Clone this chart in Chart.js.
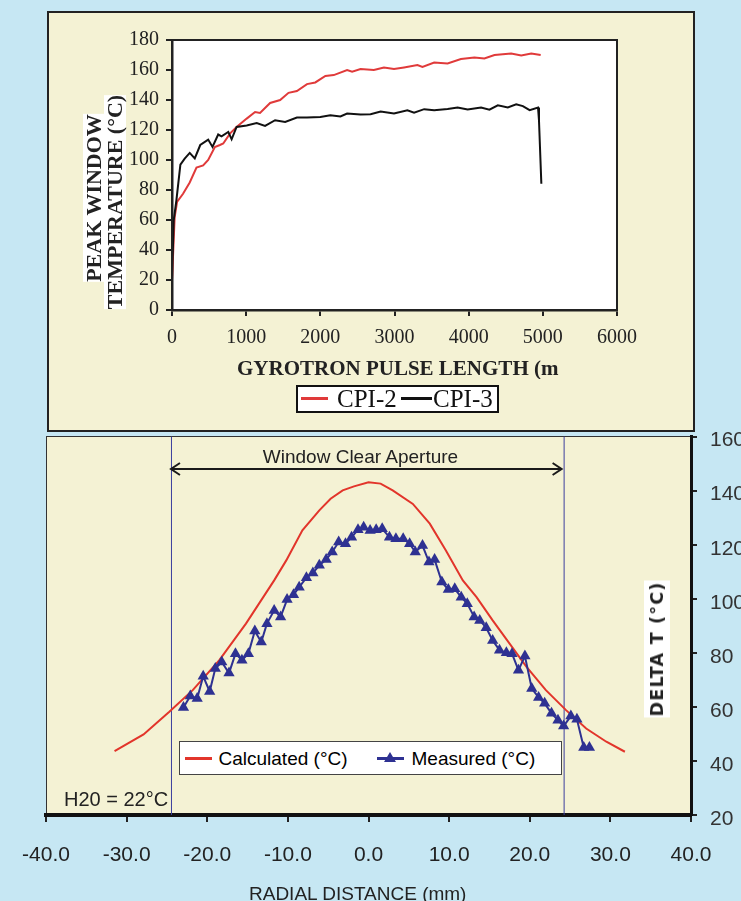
<!DOCTYPE html>
<html lang="en">
<head>
<meta charset="UTF-8">
<title>Gyrotron window temperature</title>
<script src="https://cdn.jsdelivr.net/npm/chart.js"></script>
<style>
  body { margin: 0; width: 741px; height: 901px; overflow: hidden; background: #c6e7f3; position: relative; }
  .panel { position: absolute; box-sizing: border-box; background: #f4f2d4; }
  #topPanel { left: 47px; top: 11px; width: 648px; height: 421px; border: 2px solid #222; }
  #bottomPanel { left: 46px; top: 436px; width: 646px; height: 379px; border-left: 1.5px solid #333; border-top: 1.5px solid #333; }
  canvas { position: absolute; left: 0; }
  .txt { position: absolute; white-space: nowrap; color: #222; line-height: 1; }
  .serif { font-family: 'Liberation Serif', 'Times New Roman', serif; }
  .sans { font-family: 'Liberation Sans', Arial, sans-serif; }
  .rot { transform: translate(-50%, -50%) rotate(-90deg); background: #fff; }
  .legend { position: absolute; box-sizing: border-box; background: #fff; }
  .legend > * { position: absolute; }
  .key { height: 2.5px; }
  .tri { width: 0; height: 0; border-left: 6px solid transparent; border-right: 6px solid transparent; border-bottom: 10px solid #2e3192; }
</style>
</head>
<body>
  <div class="panel" id="topPanel"></div>
  <div class="panel" id="bottomPanel"></div>

  <canvas id="pulseChart" width="741" height="432" style="top:0"></canvas>
  <canvas id="radialChart" width="741" height="490" style="top:411px"></canvas>

  <!-- top chart texts -->
  <div class="txt serif rot" style="left:93.5px; top:197.5px; font-size:22px; font-weight:bold; line-height:22px;">PEAK WINDOW</div>
  <div class="txt serif rot" style="left:114.5px; top:201.5px; font-size:22px; font-weight:bold; line-height:22px;">TEMPERATURE (°C)</div>
  <div class="txt serif" style="left:237px; top:358px; width:322px; overflow:hidden; font-size:21px; font-weight:bold;">GYROTRON PULSE LENGTH (mS)</div>

  <div class="legend serif" style="left:296px; top:385px; width:203px; height:28px; border:2px solid #111;">
    <span class="key" style="left:3px; top:10px; width:27px; background:#e03a3a;"></span>
    <span style="left:39px; top:-1px; font-size:25px; line-height:25px; color:#111;">CPI-2</span>
    <span class="key" style="left:103px; top:10px; width:31px; background:#111;"></span>
    <span style="left:135px; top:-1px; font-size:25px; line-height:25px; color:#111;">CPI-3</span>
  </div>

  <!-- bottom chart texts -->
  <div class="txt sans" style="left:360.5px; top:446.5px; font-size:19px; transform:translateX(-50%);">Window Clear Aperture</div>
  <div class="txt sans" style="left:64px; top:788.5px; font-size:20px;">H20 = 22°C</div>
  <div class="txt sans" style="left:249px; top:883.5px; font-size:19px;">RADIAL DISTANCE (mm)</div>
  <div class="txt rot" style="left:657px; top:649px; font-family:'DejaVu Sans', sans-serif; font-size:17.5px; font-weight:bold; line-height:26px; letter-spacing:1.2px; padding:0 1px;">DELTA T (°C)</div>

  <div class="legend sans" style="left:178.5px; top:741px; width:383px; height:34px; border:1.5px solid #444;">
    <span class="key" style="left:5px; top:15px; width:27px; background:#e2352b;"></span>
    <span style="left:39px; top:7px; font-size:19px; line-height:19px;">Calculated (°C)</span>
    <span class="key" style="left:197px; top:15px; width:27px; background:#2e3192;"></span>
    <span class="tri" style="left:204.5px; top:10px;"></span>
    <span style="left:232px; top:7px; font-size:19px; line-height:19px;">Measured (°C)</span>
  </div>

<script>
// ---- top chart: peak window temperature vs pulse length ----
const pulseTicks = [0, 1000, 2000, 3000, 4000, 5000, 6000];
const tempTicks = [0, 20, 40, 60, 80, 100, 120, 140, 160, 180];

const cpi2Pulse = [0, 36, 68, 149, 239, 330, 420, 488, 578, 646, 691, 781, 871, 1007, 1120, 1187, 1323, 1458, 1571, 1684,
  1820, 1932, 2068, 2181, 2361, 2429, 2542, 2722, 2858, 2993, 3129, 3309, 3377, 3535, 3716, 3896, 4077, 4212, 4348,
  4573, 4709, 4844, 4971];
const cpi2Temp = [20, 62, 72, 77.5, 85, 95, 96.4, 100, 108.7, 110, 111, 117.6, 122, 127.6, 132, 131.4, 138, 140, 144.8, 146,
  150.6, 151.7, 156, 156.6, 160, 158.8, 160.6, 160, 161.7, 160.6, 161.7, 163.3, 162, 165, 164.4, 167.3, 168.4, 167.7, 170,
  171, 169.7, 171, 170];

const cpi3Pulse = [0, 23, 59, 113, 171, 239, 307, 381, 488, 546, 623, 668, 759, 804, 871, 1007, 1142, 1255, 1390, 1526,
  1684, 1820, 2000, 2135, 2271, 2361, 2542, 2677, 2813, 2993, 3174, 3264, 3400, 3535, 3716, 3851, 3986, 4167, 4280,
  4393, 4528, 4641, 4731, 4822, 4935, 4948, 4980];
const cpi3Temp = [20, 59.7, 73, 96.9, 100.9, 104.7, 101, 110, 113.6, 108.7, 117, 115.8, 118.7, 113.8, 122, 123, 124.7, 122.7, 126.5, 125.4,
  128.3, 128.3, 128.7, 129.8, 129, 131, 130.3, 130.5, 132.3, 131, 133.2, 131.6, 133.9, 133.2, 134, 135, 133.6, 135, 133.6,
  136.5, 135, 137.2, 135.9, 133.2, 135, 126.5, 84.2];

// ---- bottom chart: delta T vs radial distance ----
const radialTicks = [-40, -30, -20, -10, 0, 10, 20, 30, 40];
const deltaTicks = [20, 40, 60, 80, 100, 120, 140, 160];

const calcRadius = [-31.5, -27.9, -25.9, -24.7, -21.8, -18.5, -15.2, -11.7, -10.2, -8.2, -6.1, -4.7, -3.2, -1.8, 0,
  1.5, 3.0, 5.5, 7.6, 9.6, 11.7, 13.4, 15.4, 17.5, 19.6, 22.0, 24.5, 27.0, 29.5, 31.8];
const calcDelta = [43.6, 49.8, 55.1, 58.2, 66.2, 77.3, 90.8, 106.8, 114.2, 125.3, 132.7, 137, 140.1, 141.6, 143.1,
  142.6, 140.1, 135.1, 127.8, 117.9, 106.8, 100.6, 92.0, 83.4, 74.8, 66.2, 58.8, 52.0, 47.1, 43.4];

const measRadius = [-22.95, -22.1, -21.25, -20.5, -19.7, -19.0, -18.2, -17.3, -16.5, -15.7, -14.9, -14.1, -13.3, -12.6,
  -11.7, -10.9, -10.1, -9.3, -8.6, -7.7, -6.9, -6.1, -5.25, -4.5, -3.7, -2.85, -2.1, -1.3, -0.6, 0.2, 0.95, 1.7, 2.6,
  3.4, 4.3, 5.1, 5.8, 6.7, 7.5, 8.2, 9.1, 9.9, 10.7, 11.5, 12.25, 13.1, 13.8, 14.6, 15.4, 16.25, 17.1, 17.8, 18.6,
  19.4, 20.25, 21.1, 21.85, 22.7, 23.5, 24.2, 25.1, 25.85, 26.7, 27.4];
const measDelta = [59.8, 64.0, 63.1, 71.3, 65.7, 74.2, 76.6, 72.5, 79.7, 77.3, 79.7, 88.1, 84.0, 90.8,
  95.7, 93.3, 99.7, 101.5, 104.3, 107.8, 109.5, 112.4, 114.5, 117.3, 121.0, 120.4, 122.8, 125.5, 126.5, 125.3, 125.5, 125.9, 122.8,
  122.2, 122.2, 120.4, 117.3, 119.7, 113.6, 114.5, 106.2, 103.4, 103.7, 100.6, 98.2, 93.3, 92.0, 89.3, 84.6, 81.0, 80.0, 79.7, 73.6,
  78.8, 66.8, 63.5, 61.3, 57.6, 55.1, 52.9, 56.6, 55.4, 45.0, 45.0];

// window clear aperture edges (mm) and the level of the arrow (delta T units)
const apertureEdges = [-24.5, 24.2];
const arrowLevel = 148;

function pairs(xs, ys) {
  return xs.map((x, i) => ({ x: x, y: ys[i] }));
}
function fixedTicks(list) {
  return scale => { scale.ticks = list.map(v => ({ value: v })); };
}

const serif = "'Liberation Serif', 'Times New Roman', serif";
const sans = "'Liberation Sans', Arial, sans-serif";

// white plot area with a dark frame, as in the top figure
const plotFrame = {
  id: 'plotFrame',
  beforeDraw(chart) {
    const a = chart.chartArea, ctx = chart.ctx;
    ctx.save();
    ctx.fillStyle = '#ffffff';
    ctx.fillRect(a.left, a.top, a.right - a.left, a.bottom - a.top);
    ctx.restore();
  },
  afterDraw(chart) {
    const a = chart.chartArea, ctx = chart.ctx;
    ctx.save();
    ctx.strokeStyle = '#222';
    ctx.lineWidth = 2;
    ctx.strokeRect(a.left, a.top, a.right - a.left, a.bottom - a.top);
    ctx.restore();
  }
};

// aperture lines and double arrow for the bottom figure
const aperture = {
  id: 'aperture',
  beforeDatasetsDraw(chart) {
    const x = chart.scales.x, y = chart.scales.y, a = chart.chartArea, ctx = chart.ctx;
    const x0 = x.getPixelForValue(apertureEdges[0]);
    const x1 = x.getPixelForValue(apertureEdges[1]);
    const ay = y.getPixelForValue(arrowLevel);
    ctx.save();
    ctx.strokeStyle = '#3b3f9e';
    ctx.lineWidth = 1;
    [x0, x1].forEach(px => {
      ctx.beginPath();
      ctx.moveTo(px + 0.5, a.top);
      ctx.lineTo(px + 0.5, a.bottom);
      ctx.stroke();
    });
    ctx.strokeStyle = '#1a1a1a';
    ctx.lineWidth = 2;
    ctx.beginPath();
    ctx.moveTo(x0, ay);
    ctx.lineTo(x1 - 2, ay);
    ctx.moveTo(x0 + 9, ay - 6);
    ctx.lineTo(x0, ay);
    ctx.lineTo(x0 + 9, ay + 6);
    ctx.moveTo(x1 - 11, ay - 6);
    ctx.lineTo(x1 - 2, ay);
    ctx.lineTo(x1 - 11, ay + 6);
    ctx.stroke();
    ctx.restore();
  }
};

new Chart(document.getElementById('pulseChart'), {
  type: 'line',
  data: {
    datasets: [
      { label: 'CPI-2', data: pairs(cpi2Pulse, cpi2Temp), borderColor: '#e03a3a', borderWidth: 2, pointRadius: 0, order: 1 },
      { label: 'CPI-3', data: pairs(cpi3Pulse, cpi3Temp), borderColor: '#111', borderWidth: 2, pointRadius: 0, order: 0 }
    ]
  },
  options: {
    responsive: false,
    animation: false,
    events: [],
    layout: { padding: { left: 0, right: 124, top: 40, bottom: 0 } },
    plugins: { legend: { display: false }, tooltip: { enabled: false } },
    scales: {
      x: {
        type: 'linear', min: 0, max: 6000,
        afterBuildTicks: fixedTicks(pulseTicks),
        afterFit: s => { s.height = 122; },
        grid: { drawOnChartArea: false, tickLength: 6, color: '#222', lineWidth: 2 },
        border: { color: '#222', width: 2.5 },
        ticks: { font: { family: serif, size: 20 }, color: '#222', padding: 10, maxRotation: 0, autoSkip: false,
          callback: v => String(v) }
      },
      y: {
        min: 0, max: 180,
        afterBuildTicks: fixedTicks(tempTicks),
        afterFit: s => { s.width = 172; },
        grid: { drawOnChartArea: false, tickLength: 6, color: '#222', lineWidth: 2 },
        border: { color: '#222', width: 2.5 },
        ticks: { font: { family: serif, size: 20 }, color: '#222', padding: 7, autoSkip: false }
      }
    }
  },
  plugins: [plotFrame]
});

new Chart(document.getElementById('radialChart'), {
  type: 'line',
  data: {
    datasets: [
      { label: 'Calculated (°C)', data: pairs(calcRadius, calcDelta), borderColor: '#e2352b', borderWidth: 2, pointRadius: 0, order: 1 },
      { label: 'Measured (°C)', data: pairs(measRadius, measDelta), borderColor: '#2e3192', backgroundColor: '#2e3192',
        borderWidth: 2, pointStyle: 'triangle', pointRadius: 6.5, pointBorderWidth: 0, order: 0 }
    ]
  },
  options: {
    responsive: false,
    animation: false,
    events: [],
    layout: { padding: { left: 46, right: 0, top: 0, bottom: 0 } },
    plugins: { legend: { display: false }, tooltip: { enabled: false } },
    scales: {
      x: {
        type: 'linear', min: -40, max: 40,
        afterBuildTicks: fixedTicks(radialTicks),
        afterFit: s => { s.height = 86; },
        grid: { drawOnChartArea: false, tickLength: 7, color: '#222', lineWidth: 2 },
        border: { color: '#111', width: 4 },
        ticks: { font: { family: sans, size: 21 }, color: '#222', padding: 21, maxRotation: 0, autoSkip: false,
          callback: v => v.toFixed(1) }
      },
      y: {
        position: 'right', min: 20, max: 160,
        afterBuildTicks: fixedTicks(deltaTicks),
        afterFit: s => { s.width = 50; },
        grid: { drawOnChartArea: false, tickLength: 6, color: '#222', lineWidth: 2 },
        border: { color: '#111', width: 3 },
        ticks: { font: { family: sans, size: 21 }, color: '#333', padding: 13, labelOffset: 4, autoSkip: false }
      }
    }
  },
  plugins: [aperture]
});
</script>
</body>
</html>
